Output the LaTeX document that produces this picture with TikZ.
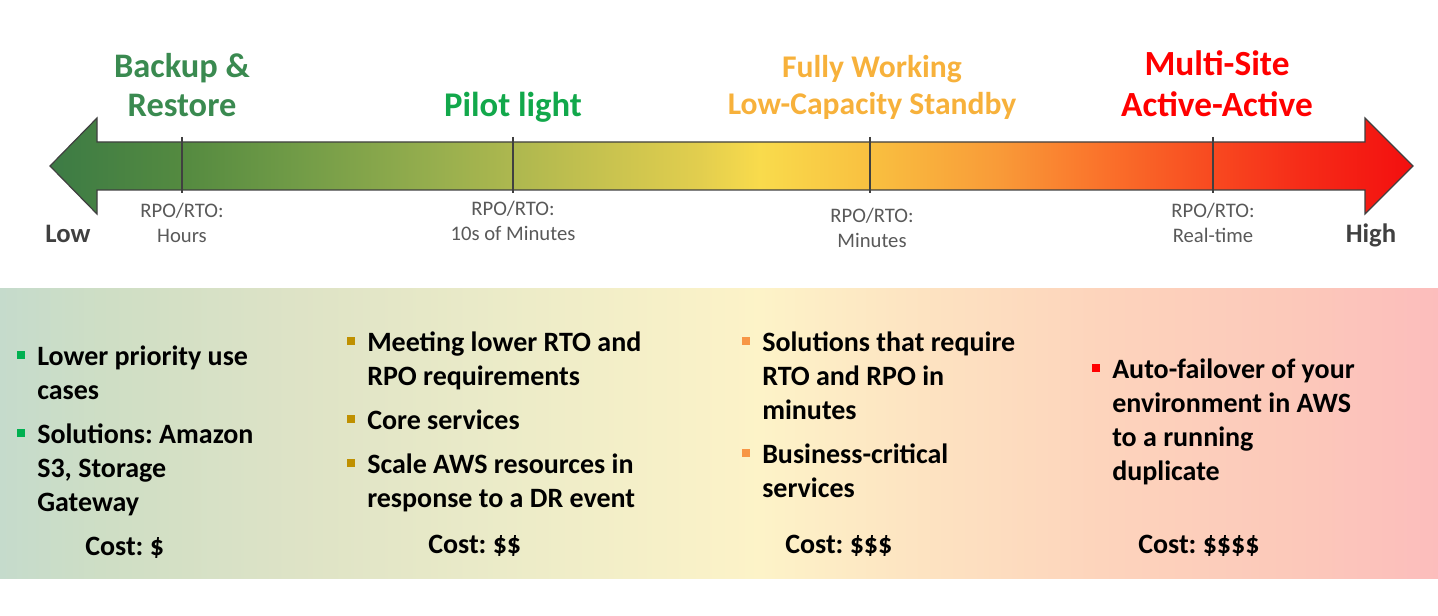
\documentclass[tikz,border=0pt]{standalone}
\usepackage{fontspec}
\setmainfont{Carlito}
\frenchspacing
\definecolor{a0}{HTML}{3C7B45}
\definecolor{a1}{HTML}{548A40}
\definecolor{a2}{HTML}{729C47}
\definecolor{a3}{HTML}{98AF4E}
\definecolor{a4}{HTML}{BBBD4F}
\definecolor{a5}{HTML}{E2CE4E}
\definecolor{a6}{HTML}{F9DB4C}
\definecolor{a7}{HTML}{F9C040}
\definecolor{a8}{HTML}{F99A38}
\definecolor{a9}{HTML}{FA732B}
\definecolor{a10}{HTML}{F84A20}
\definecolor{a11}{HTML}{F62C18}
\definecolor{a12}{HTML}{F30F0F}
\definecolor{p0}{HTML}{C5DBCC}
\definecolor{p1}{HTML}{CEDEC5}
\definecolor{p2}{HTML}{DEE3C6}
\definecolor{p3}{HTML}{EBEBC8}
\definecolor{p4}{HTML}{FDF3C8}
\definecolor{p5}{HTML}{FDE5C2}
\definecolor{p6}{HTML}{FDD4BC}
\definecolor{p7}{HTML}{FCC8BA}
\definecolor{p8}{HTML}{FCBDBC}
\definecolor{tgreen}{HTML}{3A8A50}
\definecolor{tpilot}{HTML}{12A84B}
\definecolor{torange}{HTML}{F7B13B}
\definecolor{tred}{HTML}{FF0000}
\definecolor{rpogray}{HTML}{595959}
\definecolor{endgray}{HTML}{404040}
\definecolor{tickgray}{HTML}{404040}
\definecolor{bgreen}{HTML}{00B050}
\definecolor{bgold}{HTML}{BF9000}
\definecolor{borange}{HTML}{F79646}
\definecolor{bred}{HTML}{FF0000}
\newcommand\bul[1]{\llap{\textcolor{#1}{\rule[4.5pt]{6pt}{6pt}}\hspace{9pt}}}
\begin{document}
\begin{tikzpicture}[x=0.75pt,y=-0.75pt,
  title/.style={font=\fontsize{26}{29.25}\selectfont\bfseries, align=center, inner sep=0, anchor=base},
  rpo/.style={font=\fontsize{15.5}{19}\selectfont, text=rpogray, align=center, inner sep=0, anchor=base},
  endlbl/.style={font=\fontsize{20}{24}\selectfont\bfseries, text=endgray, inner sep=0, anchor=base},
  items/.style={font=\fontsize{21}{25.5}\selectfont\bfseries, align=left, inner sep=0, anchor=base west},
  cost/.style={font=\fontsize{21}{25.5}\selectfont\bfseries, inner sep=0, anchor=base west},
  tick/.style={draw=tickgray, line width=2.2pt},
  outline/.style={draw=endgray, line width=0.9pt, line join=miter}
]
\useasboundingbox (0,0) rectangle (1438,616);
% bottom panel
\foreach \xa/\xb/\ca/\cb in {0/100/p0/p1, 100/300/p1/p2, 300/500/p2/p3, 500/760/p3/p4, 760/900/p4/p5, 900/1100/p5/p6, 1100/1300/p6/p7, 1300/1438/p7/p8}{
  \shade[left color=\ca, right color=\cb] (\xa-0.3,289) rectangle (\xb+0.3,578);
}
% arrow
\begin{scope}
\clip (50,166) -- (97,118) -- (97,142) -- (1365,142) -- (1365,118) -- (1413,166) -- (1365,214) -- (1365,190) -- (97,190) -- (97,214) -- cycle;
\foreach \xa/\xb/\ca/\cb in {50/182/a0/a1, 182/300/a1/a2, 300/440/a2/a3, 440/560/a3/a4, 560/700/a4/a5, 700/760/a5/a6, 760/870/a6/a7, 870/1000/a7/a8, 1000/1100/a8/a9, 1100/1210/a9/a10, 1210/1300/a10/a11, 1300/1413/a11/a12}{
  \shade[left color=\ca, right color=\cb] (\xa-0.3,110) rectangle (\xb+0.3,220);
}
\end{scope}
\draw[outline] (50,166) -- (97,118) -- (97,142) -- (1365,142) -- (1365,118) -- (1413,166) -- (1365,214) -- (1365,190) -- (97,190) -- (97,214) -- cycle;
% ticks
\coordinate (t1a) at (182,137); \coordinate (t1b) at (182,193);
\coordinate (t2a) at (513,137); \coordinate (t2b) at (513,193);
\coordinate (t3a) at (870,137); \coordinate (t3b) at (870,193);
\coordinate (t4a) at (1213,137); \coordinate (t4b) at (1213,193);
\draw[tick] (t1a) -- (t1b);
\draw[tick] (t2a) -- (t2b);
\draw[tick] (t3a) -- (t3b);
\draw[tick] (t4a) -- (t4b);
% titles (base anchor = last line baseline)
\node[title, text=tgreen, font=\fontsize{25.8}{29.25}\selectfont\bfseries] (backup) at (182,117) {Backup \&\\Restore};
\node[title, text=tpilot] (pilot) at (513,117) {Pilot light};
\node[title, text=torange, font=\fontsize{23.7}{27.75}\selectfont\bfseries] (warm) at (872,115) {Fully Working\\Low-Capacity Standby};
\node[title, text=tred, font=\fontsize{26.5}{30.75}\selectfont\bfseries] (multi) at (1217,117) {Multi-Site\\Active-Active};
% rpo labels
\node[rpo] (r1) at (182,243) {RPO/RTO:\\Hours};
\node[rpo] (r2) at (513,241) {RPO/RTO:\\10s of Minutes};
\node[rpo] (r3) at (872,248) {RPO/RTO:\\Minutes};
\node[rpo] (r4) at (1213,243) {RPO/RTO:\\Real-time};
\node[endlbl] (low) at (68,243) {Low};
\node[endlbl] (high) at (1371,243) {High};
% bullet columns
\node[items] (c1) at (37,511) {\bul{bgreen}Lower priority use\\cases\\[7.5pt]\bul{bgreen}Solutions: Amazon\\S3, Storage\\Gateway};
\node[items] (c2) at (367,507) {\bul{bgold}Meeting lower RTO and\\RPO requirements\\[7.5pt]\bul{bgold}Core services\\[7.5pt]\bul{bgold}Scale AWS resources in\\response to a DR event};
\node[items] (c3) at (762,497) {\bul{borange}Solutions that require\\RTO and RPO in\\minutes\\[7.5pt]\bul{borange}Business-critical\\services};
\node[items] (c4) at (1112,480) {\bul{bred}Auto-failover of your\\environment in AWS\\to a running\\duplicate};
\node[cost] (k1) at (85,555) {Cost: \$};
\node[cost] (k2) at (428,553) {Cost: \$\$};
\node[cost] (k3) at (785,553) {Cost: \$\$\$};
\node[cost] (k4) at (1138,553) {Cost: \$\$\$\$};
\end{tikzpicture}
\end{document}
